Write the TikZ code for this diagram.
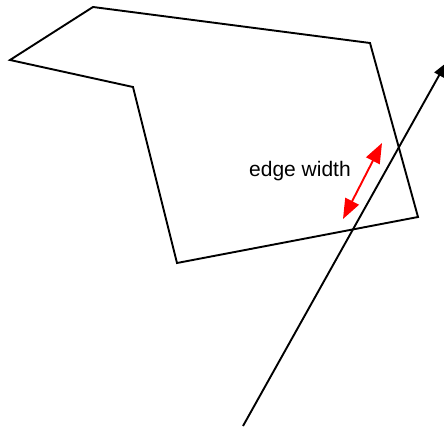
\documentclass[tikz,border=0pt]{standalone}
\usepackage{fontspec}
\setmainfont{Liberation Sans}
\usetikzlibrary{arrows.meta}

\begin{document}
\begin{tikzpicture}[x=1pt,y=-1pt]
\useasboundingbox (0,0) rectangle (444,428);
\clip (0,0) rectangle (444,428);
\coordinate (p1) at (93,7);
\coordinate (p2) at (370,43);
\coordinate (p3) at (418,217);
\coordinate (p4) at (177,263);
\coordinate (p5) at (133,87);
\coordinate (p6) at (10,60);
\draw[black,line width=1.9pt,line join=miter] (p1) -- (p2) -- (p3) -- (p4) -- (p5) -- (p6) -- cycle;
\coordinate (rayStart) at (243,426);
\coordinate (rayEnd) at (446,63);
\draw[black,line width=1.9pt,-{Triangle[length=14pt,width=11pt]}] (rayStart) -- (rayEnd);
\coordinate (widthA) at (343,219);
\coordinate (widthB) at (382,143);
\draw[red,line width=1.9pt,{Triangle[length=20pt,width=15pt]}-{Triangle[length=20pt,width=15pt]}] (widthA) -- (widthB);
\node[inner sep=0pt,font=\fontsize{21}{25}\selectfont] (label) at (300,171) {edge width};
\end{tikzpicture}
\end{document}
